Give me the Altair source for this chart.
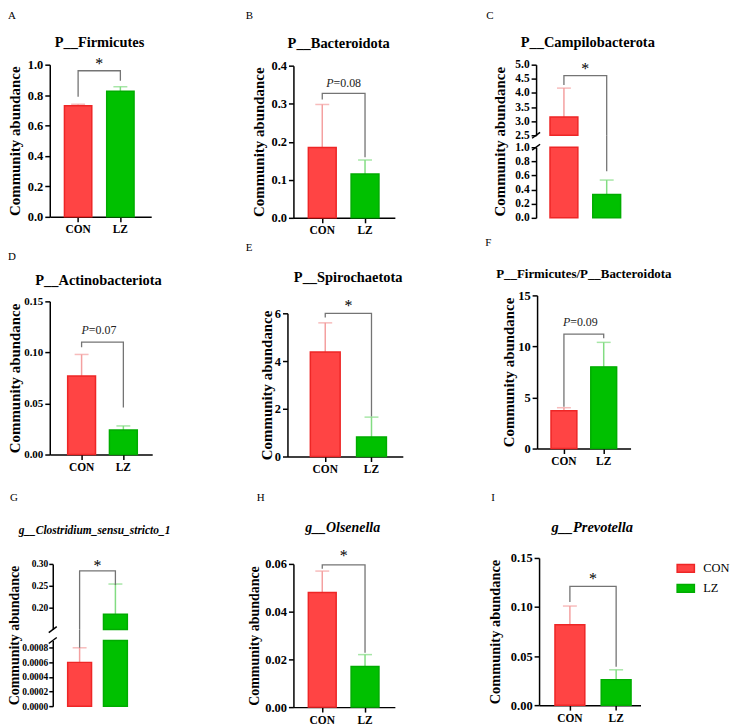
import altair as alt
import pandas as pd

FONT = "Liberation Serif"

# ---------------- data ----------------
groups = ["CON", "LZ"]
letters = ["A", "B", "C", "D", "E", "F", "G", "H", "I"]
titles = ["P__Firmicutes", "P__Bacteroidota", "P__Campilobacterota",
          "P__Actinobacteriota", "P__Spirochaetota", "P__Firmicutes/P__Bacteroidota",
          "g__Clostridium_sensu_stricto_1", "g__Olsenella", "g__Prevotella"]
mean_con = [0.73, 0.185, 3.15, 0.077, 4.38, 3.7, 0.0006, 0.048, 0.082]
mean_lz = [0.825, 0.115, 0.33, 0.024, 0.82, 8.0, 0.185, 0.017, 0.026]
upper_con = [0.74, 0.298, 4.17, 0.098, 5.6, 4.0, 0.0008, 0.057, 0.101]
upper_lz = [0.855, 0.152, 0.535, 0.028, 1.65, 10.4, 0.254, 0.022, 0.036]
bracket_top = [0.96, 0.327, 4.61, 0.110, 6.0, 11.2, 0.284, 0.0596, 0.121]
bracket_con = [0.79, 0.311, 4.28, 0.105, 5.82, 4.1, 0.0008, 0.058, 0.105]
bracket_lz = [0.895, 0.159, 0.66, 0.046, 1.68, 10.8, 0.252, 0.0228, 0.039]
sig_labels = ["*", "P=0.08", "*", "P=0.07", "*", "P=0.09", "*", "*", "*"]
sig_y = [1.02, 0.358, 4.93, 0.123, 6.4, 12.5, 0.30, 0.064, 0.131]

y_domains = {"A": [0, 1.0], "B": [0, 0.4], "C_top": [2.5, 5.0], "C_bot": [0, 1.0],
             "D": [0, 0.15], "E": [0, 6], "F": [0, 15],
             "G_top": [0.15, 0.30], "G_bot": [0, 0.0009], "H": [0, 0.06], "I": [0, 0.15]}
y_ticks = {"A": [0, 0.2, 0.4, 0.6, 0.8, 1.0], "B": [0, 0.1, 0.2, 0.3, 0.4],
           "C_top": [2.5, 3.0, 3.5, 4.0, 4.5, 5.0], "C_bot": [0, 0.2, 0.4, 0.6, 0.8, 1.0],
           "D": [0, 0.05, 0.10, 0.15], "E": [0, 2, 4, 6], "F": [0, 5, 10, 15],
           "G_top": [0.20, 0.25, 0.30], "G_bot": [0, 0.0002, 0.0004, 0.0006, 0.0008],
           "H": [0, 0.02, 0.04, 0.06], "I": [0, 0.05, 0.10, 0.15]}
y_formats = {"A": ".1f", "B": ".1f", "C_top": ".1f", "C_bot": ".1f", "D": ".2f", "E": "d",
             "F": "d", "G_top": ".2f", "G_bot": ".4f", "H": ".2f", "I": ".2f"}

fill_colors = ["#FF4444", "#00C000"]
edge_colors = ["#EE2626", "#00AC00"]
err_colors = ["#F4A0A0", "#82DC82"]
BRACKET = "#747474"

# ---------------- layout (pixels, relative to each view) ----------------
L = {
    "A": dict(k=0, w=102, hv=153, rng=[153, 0], c1=28.5, c2=71, bw=27.5,
              title=(50, -18), tfs=14.5, letter=(-42, -55), tpad=4.4, lsz=12.5, sdx=0),
    "B": dict(k=7, w=102, hv=154, rng=[154, 1], c1=29, c2=72, bw=28,
              title=(52.5, -17), tfs=14.5, letter=(-41, -55), tpad=4.4, lsz=12.5, sdx=0),
    "C": dict(k=1, w=99, hv=154, rng_top=[71, 0], rng_bot=[154, 83], c1=28, c2=71, bw=28,
              title=(53, -18), tfs=14.5, letter=(-49, -55), tpad=7.6, lsz=11.5, sdx=0),
    "D": dict(k=0, w=103, hv=160, rng=[160, 6], c1=32, c2=74, bw=28,
              title=(49, -10), tfs=14.5, letter=(-42, -45), tpad=0.7, lsz=11, sdx=-3.5),
    "E": dict(k=1, w=116, hv=162, rng=[162, 18], c1=38, c2=84.5, bw=30,
              title=(62, -13), tfs=14.5, letter=(-41, -54), tpad=0, lsz=12.5, sdx=0),
    "F": dict(k=2, w=94, hv=154, rng=[154, 0], c1=27, c2=67, bw=26,
              title=(49, -17), tfs=13, letter=(-50, -59), tpad=1.5, lsz=12.5, sdx=-3.5),
    "G": dict(k=3, w=102, hv=173, rng_top=[96, 30], rng_bot=[173, 107], c1=27, c2=63, bw=24,
              title=(45, 0), tfs=11.5, letter=(-40, -42), tpad=10, lsz=9.5, sdx=0,
              yextra=dict(tickSize=4, labelPadding=1)),
    "H": dict(k=7, w=102, hv=174, rng=[174, 30], c1=29, c2=72, bw=28,
              title=(56.5, -2), tfs=14, letter=(-30, -42), tpad=3.1, lsz=12.5, sdx=0),
    "I": dict(k=4, w=102, hv=172, rng=[172, 24], c1=31, c2=77.5, bw=30,
              title=(57.5, -2), tfs=14.5, letter=(-44, -42), tpad=8.1, lsz=12.5, sdx=0),
}
ytitle_size = {"A": 15, "B": 15, "C": 15, "D": 15, "E": 15, "F": 15, "G": 14, "H": 14, "I": 14.5}

one = pd.DataFrame({"k": [0]})

leg = alt.Legend(title=None, orient="none", legendX=630, legendY=497,
                 symbolType="M-1,-0.45H1V0.45H-1Z", symbolSize=300,
                 labelFont=FONT, labelFontSize=12.5, labelFontWeight="normal",
                 labelColor="black", rowPadding=3, labelOffset=8,
                 symbolStrokeWidth=1.5, padding=0)


def xscale(p):
    s = p["c2"] - p["c1"]
    pi = 1 - p["bw"] / s
    po = (p["w"] / s - 2 + pi) / 2
    start = p["c1"] - p["bw"] / 2
    denom = p["w"] - s * (2 - pi)
    al = min(1.0, max(0.0, start / denom)) if denom > 0 else 0.5
    return alt.Scale(domain=groups, range=[p["k"], p["k"] + p["w"]],
                     paddingInner=pi, paddingOuter=po, align=al)


def segment(key, i, rng, bars_df, err_df, br_df=None, show_x=True, ytitle=True,
            ytitle_y=None, sig=True, connector=None, slashes=()):
    p = L[key[0]]
    xs = xscale(p)
    xaxis = alt.Axis(title=None, labelAngle=0, labelFontSize=11.5) if show_x else None
    ykw = dict(values=y_ticks[key], format=y_formats[key], labelFontSize=p["lsz"],
               titlePadding=p["tpad"], orient="left", titleFontSize=ytitle_size[key[0]])
    ykw.update(p.get("yextra", {}))
    if p["k"]:
        ykw["offset"] = -p["k"]
    if ytitle:
        ykw["title"] = "Community abundance"
        if ytitle_y is not None:
            ykw["titleY"] = ytitle_y
    else:
        ykw["title"] = ""
    yaxis = alt.Axis(**ykw)
    ys = alt.Scale(domain=y_domains[key], range=rng, nice=False, zero=False)
    Xb = alt.X("group:N", scale=xs, axis=xaxis)
    Xc = alt.X("group:N", scale=xs, axis=xaxis, bandPosition=0.5)

    def Y(f):
        return alt.Y(f, type="quantitative", scale=ys, axis=yaxis)

    layers = []
    layers.append(alt.Chart(err_df).mark_rule(strokeWidth=1.5).encode(
        x=Xc, y=Y("mean"), y2="upper:Q", color=alt.Color("ecol:N", scale=None)))
    layers.append(alt.Chart(err_df).mark_tick(thickness=1.5, size=14).encode(
        x=Xc, y=Y("upper"), color=alt.Color("ecol:N", scale=None)))
    layers.append(alt.Chart(bars_df).mark_bar(strokeWidth=1.5).encode(
        x=Xb, y=Y("top"), y2="base:Q",
        fill=alt.Fill("group:N", scale=alt.Scale(domain=groups, range=fill_colors), legend=leg),
        stroke=alt.Stroke("group:N", scale=alt.Scale(domain=groups, range=edge_colors), legend=leg)))
    if br_df is not None:
        layers.append(alt.Chart(br_df).mark_line(color=BRACKET, strokeWidth=1.3).encode(
            x=Xc, y=Y("y"), order="ord:Q"))
    if connector is not None:
        cdf, y2px = connector
        layers.append(alt.Chart(cdf).mark_rule(color=BRACKET, strokeWidth=1.3).encode(
            x=Xc, y=Y("y"), y2=alt.value(y2px)))
    if sig:
        half = (p["c2"] - p["c1"]) / 2
        lab = sig_labels[i]
        sdf = pd.DataFrame({"group": ["CON"], "y": [sig_y[i]]})
        if lab == "*":
            layers.append(alt.Chart(sdf).mark_text(text="*", font=FONT, fontSize=16,
                                                   baseline="middle", dx=half, dy=2,
                                                   color="black").encode(x=Xc, y=Y("y")))
        else:
            fs = 12
            split = half + p["sdx"] - (2.925 / 2 - 0.611) * fs
            layers.append(alt.Chart(sdf).mark_text(text=lab[0], font=FONT, fontSize=fs,
                                                   fontStyle="italic", align="right",
                                                   baseline="middle", dx=split, dy=1,
                                                   color="#222222").encode(x=Xc, y=Y("y")))
            layers.append(alt.Chart(sdf).mark_text(text=lab[1:], font=FONT, fontSize=fs,
                                                   align="left", baseline="middle",
                                                   dx=split, dy=1,
                                                   color="#222222").encode(x=Xc, y=Y("y")))
    for sy in slashes:
        layers.append(alt.Chart(one).mark_rule(color="black", strokeWidth=1.5).encode(
            x=alt.value(p["k"] - 4), x2=alt.value(p["k"] + 4),
            y=alt.value(sy + 3), y2=alt.value(sy - 3)))
    return layers


def labels(key, i):
    p = L[key]
    tx, ty = p["title"]
    lx, ly = p["letter"]
    return [
        alt.Chart(one).mark_text(text=titles[i], font=FONT, fontWeight="bold",
                                 fontStyle="italic" if i >= 6 else "normal",
                                 fontSize=p["tfs"], align="center", baseline="alphabetic",
                                 color="black").encode(x=alt.value(tx), y=alt.value(ty)),
        alt.Chart(one).mark_text(text=letters[i], font=FONT, fontSize=11,
                                 align="left", baseline="top",
                                 color="black").encode(x=alt.value(lx), y=alt.value(ly)),
    ]


def simple(key, i):
    p = L[key]
    bars = pd.DataFrame({"group": groups, "top": [mean_con[i], mean_lz[i]], "base": [0, 0]})
    errs = pd.DataFrame({"group": groups, "mean": [mean_con[i], mean_lz[i]],
                         "upper": [upper_con[i], upper_lz[i]], "ecol": err_colors})
    br = pd.DataFrame({"group": ["CON", "CON", "LZ", "LZ"],
                       "y": [bracket_con[i], bracket_top[i], bracket_top[i], bracket_lz[i]],
                       "ord": [0, 1, 2, 3]})
    layers = segment(key, i, p["rng"], bars, errs, br) + labels(key, i)
    return alt.layer(*layers).properties(width=p["k"] + p["w"], height=p["hv"])


# ---- broken panel C ----
pc = L["C"]
i = 2
c_lo = y_domains["C_top"][0]
b_hi = y_domains["C_bot"][1]
C_top = alt.layer(*(segment(
    "C_top", i, pc["rng_top"],
    pd.DataFrame({"group": ["CON"], "top": [mean_con[i]], "base": [c_lo]}),
    pd.DataFrame({"group": ["CON"], "mean": [mean_con[i]], "upper": [upper_con[i]],
                  "ecol": [err_colors[0]]}),
    pd.DataFrame({"group": ["CON", "CON", "LZ", "LZ"],
                  "y": [bracket_con[i], bracket_top[i], bracket_top[i], c_lo],
                  "ord": [0, 1, 2, 3]}),
    show_x=False, ytitle_y=(pc["rng_top"][1] + pc["rng_bot"][0]) / 2,
    slashes=[pc["rng_top"][0]]) + labels("C", i)))
C_bot = alt.layer(*segment(
    "C_bot", i, pc["rng_bot"],
    pd.DataFrame({"group": groups, "top": [min(mean_con[i], b_hi), mean_lz[i]], "base": [0, 0]}),
    pd.DataFrame({"group": ["LZ"], "mean": [mean_lz[i]], "upper": [upper_lz[i]],
                  "ecol": [err_colors[1]]}),
    None, ytitle=False, sig=False,
    connector=(pd.DataFrame({"group": ["LZ"], "y": [bracket_lz[i]]}), pc["rng_top"][0]),
    slashes=[pc["rng_bot"][1]]))
C = alt.layer(C_top, C_bot).resolve_scale(y="independent").resolve_axis(
    y="independent").properties(width=pc["k"] + pc["w"], height=pc["hv"])

# ---- broken panel G ----
pg = L["G"]
i = 6
g_lo = y_domains["G_top"][0]
gb_hi = y_domains["G_bot"][1]
G_top = alt.layer(*(segment(
    "G_top", i, pg["rng_top"],
    pd.DataFrame({"group": ["LZ"], "top": [mean_lz[i]], "base": [g_lo]}),
    pd.DataFrame({"group": ["LZ"], "mean": [mean_lz[i]], "upper": [upper_lz[i]],
                  "ecol": [err_colors[1]]}),
    pd.DataFrame({"group": ["CON", "CON", "LZ", "LZ"],
                  "y": [g_lo, bracket_top[i], bracket_top[i], bracket_lz[i]],
                  "ord": [0, 1, 2, 3]}),
    show_x=False, ytitle_y=(pg["rng_top"][1] + pg["rng_bot"][0]) / 2,
    slashes=[pg["rng_top"][0]]) + labels("G", i)))
G_bot = alt.layer(*segment(
    "G_bot", i, pg["rng_bot"],
    pd.DataFrame({"group": groups, "top": [mean_con[i], min(mean_lz[i], gb_hi)], "base": [0, 0]}),
    pd.DataFrame({"group": ["CON"], "mean": [mean_con[i]], "upper": [upper_con[i]],
                  "ecol": [err_colors[0]]}),
    None, ytitle=False, sig=False,
    connector=(pd.DataFrame({"group": ["CON"], "y": [bracket_con[i]]}), pg["rng_top"][0]),
    slashes=[pg["rng_bot"][1]]))
G = alt.layer(G_top, G_bot).resolve_scale(y="independent").resolve_axis(
    y="independent").properties(width=pg["k"] + pg["w"], height=pg["hv"])

A = simple("A", 0)
B = simple("B", 1)
D = simple("D", 3)
E = simple("E", 4)
F = simple("F", 5)
H = simple("H", 7)
I = simple("I", 8)

chart = alt.concat(A, B, C, D, E, F, G, H, I, columns=3, bounds="flush", align="each",
                   spacing={"row": 78, "column": 133}).properties(
    autosize=alt.AutoSizeParams(type="none"),
    padding={"left": 42, "top": 55, "right": 686, "bottom": 665}
).configure_axis(
    grid=False, domainColor="black", domainWidth=1.5, tickColor="black", tickWidth=1.5,
    tickSize=5, labelFont=FONT, labelFontWeight="bold", labelColor="black",
    labelPadding=2, titleFont=FONT, titleFontWeight="bold", titleColor="black"
).configure_view(stroke="transparent")

chart.save("out.html", embed_options={"renderer": "svg", "actions": False})
